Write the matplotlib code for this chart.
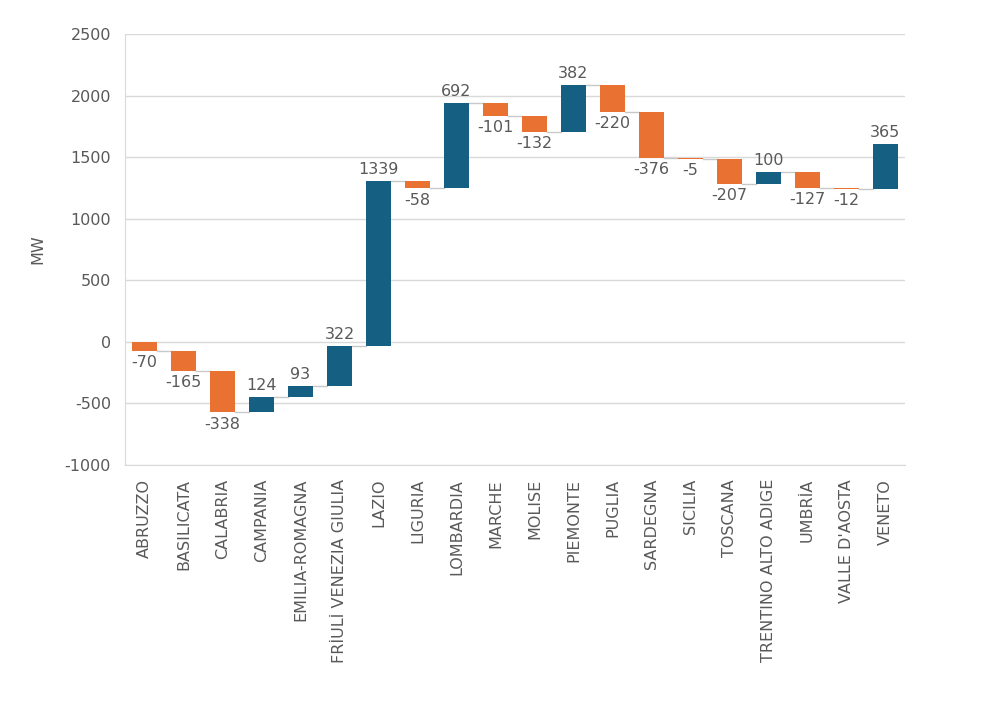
import numpy as np
import matplotlib
matplotlib.use("Agg")
from matplotlib import pyplot as plt

plt.rcParams["axes.unicode_minus"] = False

regions = ["ABRUZZO", "BASILICATA", "CALABRIA", "CAMPANIA", "EMILIA-ROMAGNA",
           "FRİULİ VENEZIA GIULIA", "LAZIO", "LIGURIA", "LOMBARDIA", "MARCHE",
           "MOLISE", "PIEMONTE", "PUGLIA", "SARDEGNA", "SICILIA", "TOSCANA",
           "TRENTINO ALTO ADIGE", "UMBRİA", "VALLE D'AOSTA", "VENETO"]
deltas = [-70, -165, -338, 124, 93, 322, 1339, -58, 692, -101,
          -132, 382, -220, -376, -5, -207, 100, -127, -12, 365]

orange = "#E97132"
blue = "#156082"
text_col = "#595959"

ends = np.cumsum(deltas)
starts = ends - np.array(deltas)
x = np.arange(len(regions))

fig = plt.figure(figsize=(9.81, 7.10), dpi=100)
ax = fig.add_axes([0.1274, 0.345, 0.795, 0.607])

colors = [orange if d < 0 else blue for d in deltas]
w = 0.66
ax.bar(x, deltas, bottom=starts, width=w, color=colors, zorder=3)

# connector lines between bars
for i in range(len(x) - 1):
    ax.plot([x[i] + w / 2, x[i + 1] - w / 2], [ends[i], ends[i]],
            color="#C8C8C8", lw=1, zorder=2)

for i, d in enumerate(deltas):
    if d < 0:
        ax.annotate(str(d), (x[i], starts[i] + d), xytext=(0, -3),
                    textcoords="offset points", ha="center", va="top",
                    fontsize=11.5, color=text_col)
    else:
        ax.annotate(str(d), (x[i], ends[i]), xytext=(0, 3),
                    textcoords="offset points", ha="center", va="bottom",
                    fontsize=11.5, color=text_col)

ax.set_ylim(-1000, 2500)
ax.set_yticks(np.arange(-1000, 2501, 500))
ax.set_xlim(-0.5, len(regions) - 0.5)
ax.set_xticks(x)
ax.set_xticklabels(regions, rotation=90)
ax.grid(axis="y", color="#D9D9D9", lw=1, zorder=0)
ax.tick_params(axis="both", length=0, labelsize=11.5, colors=text_col, pad=10)
for s in ["top", "right"]:
    ax.spines[s].set_visible(False)
for s in ["left", "bottom"]:
    ax.spines[s].set_color("#D9D9D9")
ax.set_ylabel("MW", fontsize=11.5, color=text_col)
ax.yaxis.set_label_coords(-0.1026, 0.5)

fig.savefig("out.png", dpi=100)
